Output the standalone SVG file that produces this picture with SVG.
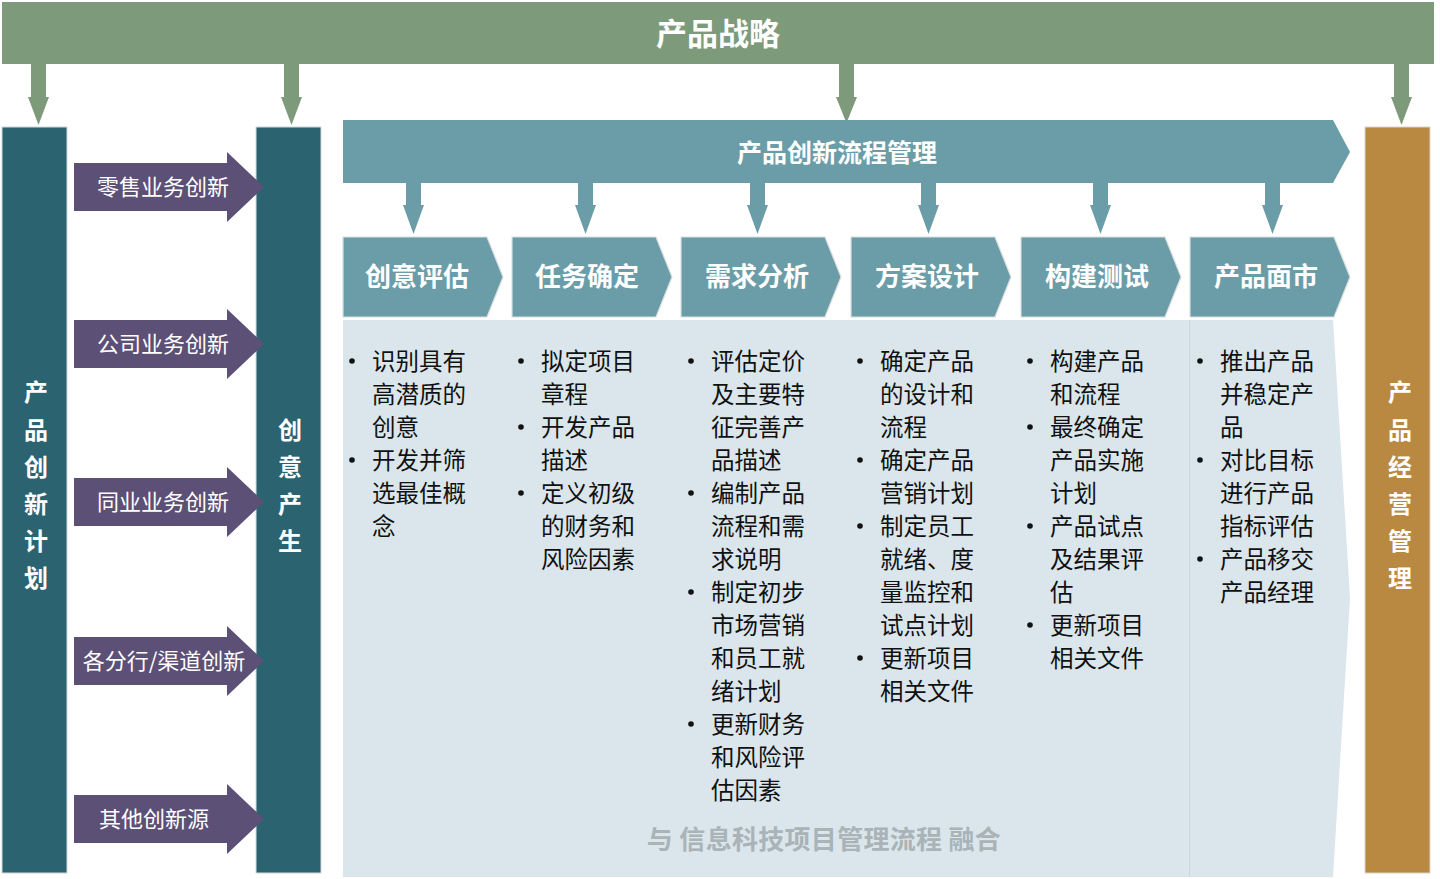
<svg xmlns="http://www.w3.org/2000/svg" width="1440" height="879" viewBox="0 0 1440 879">
<style>
.cjk{font-family:"Noto Sans CJK SC","Noto Sans",sans-serif}
.wb{fill:#fff;font-weight:bold}
.ttl{font-size:31px}
.hdr{font-size:26px}
.proc{font-size:25px}
.arr{font-size:22px;fill:#fff}
.vert{font-size:24px}
.body{font-size:23.5px;fill:#111}
.bul{fill:#111}
.green{fill:#7D9A7B}
.dteal{fill:#2B6470;stroke:#d4d9da;stroke-width:1}
.lteal{fill:#6A9DA8}
.chev{fill:#6A9DA8;stroke:#d9dfe1;stroke-width:1.2}
.purp{fill:#5C5076}
.gold{fill:#B98941;stroke:#d9d4cc;stroke-width:1}
.bg{fill:#DAE6EB}
.foot{font-size:26px;font-weight:bold;fill:#A9B3B8;letter-spacing:0.3px}
</style>
<rect width="1440" height="879" fill="#fff"/>

<g id="connectors">
  <polygon class="green" points="31,62 46,62 46,97 49,97 38.5,125 28,97 31,97"/>
  <polygon class="green" points="284,62 299,62 299,97 302,97 291.5,125 281,97 284,97"/>
  <polygon class="green" points="839,62 854,62 854,97 857,97 846.5,123 836,97 839,97"/>
  <polygon class="green" points="1394,62 1409,62 1409,97 1412,97 1401.5,125 1391,97 1394,97"/>
  <polygon class="lteal" points="406,181 421,181 421,205 424,205 413.5,234 403,205 406,205"/>
  <polygon class="lteal" points="578,181 593,181 593,205 596,205 585.5,234 575,205 578,205"/>
  <polygon class="lteal" points="750,181 765,181 765,205 768,205 757.5,234 747,205 750,205"/>
  <polygon class="lteal" points="921,181 936,181 936,205 939,205 928.5,234 918,205 921,205"/>
  <polygon class="lteal" points="1093,181 1108,181 1108,205 1111,205 1100.5,234 1090,205 1093,205"/>
  <polygon class="lteal" points="1265,181 1280,181 1280,205 1283,205 1272.5,234 1262,205 1265,205"/>
</g>

<g id="strategy">
  <rect class="green" x="2" y="2" width="1432" height="62"/>
  <text class="cjk wb ttl" x="718" y="45" text-anchor="middle">产品战略</text>
</g>

<g id="plan">
  <rect class="dteal" x="2" y="127" width="65" height="746"/>
  <text class="cjk wb vert" text-anchor="middle"><tspan x="36" y="401">产</tspan><tspan x="36" y="439">品</tspan><tspan x="36" y="476">创</tspan><tspan x="36" y="513">新</tspan><tspan x="36" y="550">计</tspan><tspan x="36" y="587">划</tspan></text>
</g>

<g id="generate">
  <rect class="dteal" x="256" y="127" width="65" height="746"/>
  <text class="cjk wb vert" text-anchor="middle"><tspan x="290" y="439">创</tspan><tspan x="290" y="476">意</tspan><tspan x="290" y="513">产</tspan><tspan x="290" y="550">生</tspan></text>
</g>

<g id="sources">
  <g id="src-retail"><polygon class="purp" points="74,163 227,163 227,152 264,187 227,222 227,211 74,211"/><text class="cjk arr" x="163" y="195" text-anchor="middle">零售业务创新</text></g>
  <g id="src-corp"><polygon class="purp" points="74,320 227,320 227,309 264,344 227,379 227,368 74,368"/><text class="cjk arr" x="163" y="352" text-anchor="middle">公司业务创新</text></g>
  <g id="src-peer"><polygon class="purp" points="74,478 227,478 227,467 264,502 227,537 227,526 74,526"/><text class="cjk arr" x="163" y="510" text-anchor="middle">同业业务创新</text></g>
  <g id="src-branch"><polygon class="purp" points="74,637 227,637 227,626 264,661 227,696 227,685 74,685"/><text class="cjk arr" x="164" y="669" text-anchor="middle">各分行/渠道创新</text></g>
  <g id="src-other"><polygon class="purp" points="74,795 227,795 227,784 264,819 227,854 227,843 74,843"/><text class="cjk arr" x="154" y="827" text-anchor="middle">其他创新源</text></g>
</g>

<g id="process">
  <polygon class="lteal" points="343,120 1333,120 1350,152 1333,183 343,183"/>
  <text class="cjk wb proc" x="837" y="162" text-anchor="middle">产品创新流程管理</text>
</g>

<g id="content">
  <polygon class="bg" points="343,320 1333,320 1350,598 1333,877 343,877"/>
  <line x1="1189.5" y1="320" x2="1189.5" y2="877" stroke="#C5D6DC" stroke-width="1"/>
  <text class="cjk foot" x="824" y="849" text-anchor="middle">与 信息科技项目管理流程 融合</text>
</g>

<g id="stage1">
  <polygon class="chev" points="343,237 487,237 503,277 487,317 343,317"/>
  <text class="cjk wb hdr" x="417" y="286" text-anchor="middle">创意评估</text>
  <g class="cjk body">
    <text x="372" y="370">识别具有</text><text x="372" y="403">高潜质的</text><text x="372" y="436">创意</text>
    <text x="372" y="469">开发并筛</text><text x="372" y="502">选最佳概</text><text x="372" y="535">念</text>
  </g>
  <circle class="bul" cx="352" cy="361" r="2.8"/><circle class="bul" cx="352" cy="460" r="2.8"/>
</g>

<g id="stage2">
  <polygon class="chev" points="512,237 656,237 672,277 656,317 512,317"/>
  <text class="cjk wb hdr" x="587" y="286" text-anchor="middle">任务确定</text>
  <g class="cjk body">
    <text x="541" y="370">拟定项目</text><text x="541" y="403">章程</text>
    <text x="541" y="436">开发产品</text><text x="541" y="469">描述</text>
    <text x="541" y="502">定义初级</text><text x="541" y="535">的财务和</text><text x="541" y="568">风险因素</text>
  </g>
  <circle class="bul" cx="521" cy="361" r="2.8"/><circle class="bul" cx="521" cy="427" r="2.8"/><circle class="bul" cx="521" cy="493" r="2.8"/>
</g>

<g id="stage3">
  <polygon class="chev" points="681,237 825,237 841,277 825,317 681,317"/>
  <text class="cjk wb hdr" x="757" y="286" text-anchor="middle">需求分析</text>
  <g class="cjk body">
    <text x="711" y="370">评估定价</text><text x="711" y="403">及主要特</text><text x="711" y="436">征完善产</text><text x="711" y="469">品描述</text>
    <text x="711" y="502">编制产品</text><text x="711" y="535">流程和需</text><text x="711" y="568">求说明</text>
    <text x="711" y="601">制定初步</text><text x="711" y="634">市场营销</text><text x="711" y="667">和员工就</text><text x="711" y="700">绪计划</text>
    <text x="711" y="733">更新财务</text><text x="711" y="766">和风险评</text><text x="711" y="799">估因素</text>
  </g>
  <circle class="bul" cx="691" cy="361" r="2.8"/><circle class="bul" cx="691" cy="493" r="2.8"/><circle class="bul" cx="691" cy="592" r="2.8"/><circle class="bul" cx="691" cy="724" r="2.8"/>
</g>

<g id="stage4">
  <polygon class="chev" points="851,237 995,237 1011,277 995,317 851,317"/>
  <text class="cjk wb hdr" x="927" y="286" text-anchor="middle">方案设计</text>
  <g class="cjk body">
    <text x="880" y="370">确定产品</text><text x="880" y="403">的设计和</text><text x="880" y="436">流程</text>
    <text x="880" y="469">确定产品</text><text x="880" y="502">营销计划</text>
    <text x="880" y="535">制定员工</text><text x="880" y="568">就绪、度</text><text x="880" y="601">量监控和</text><text x="880" y="634">试点计划</text>
    <text x="880" y="667">更新项目</text><text x="880" y="700">相关文件</text>
  </g>
  <circle class="bul" cx="860" cy="361" r="2.8"/><circle class="bul" cx="860" cy="460" r="2.8"/><circle class="bul" cx="860" cy="526" r="2.8"/><circle class="bul" cx="860" cy="658" r="2.8"/>
</g>

<g id="stage5">
  <polygon class="chev" points="1021,237 1165,237 1181,277 1165,317 1021,317"/>
  <text class="cjk wb hdr" x="1097" y="286" text-anchor="middle">构建测试</text>
  <g class="cjk body">
    <text x="1050" y="370">构建产品</text><text x="1050" y="403">和流程</text>
    <text x="1050" y="436">最终确定</text><text x="1050" y="469">产品实施</text><text x="1050" y="502">计划</text>
    <text x="1050" y="535">产品试点</text><text x="1050" y="568">及结果评</text><text x="1050" y="601">估</text>
    <text x="1050" y="634">更新项目</text><text x="1050" y="667">相关文件</text>
  </g>
  <circle class="bul" cx="1030" cy="361" r="2.8"/><circle class="bul" cx="1030" cy="427" r="2.8"/><circle class="bul" cx="1030" cy="526" r="2.8"/><circle class="bul" cx="1030" cy="625" r="2.8"/>
</g>

<g id="stage6">
  <polygon class="chev" points="1190,237 1334,237 1350,277 1334,317 1190,317"/>
  <text class="cjk wb hdr" x="1266" y="286" text-anchor="middle">产品面市</text>
  <g class="cjk body">
    <text x="1220" y="370">推出产品</text><text x="1220" y="403">并稳定产</text><text x="1220" y="436">品</text>
    <text x="1220" y="469">对比目标</text><text x="1220" y="502">进行产品</text><text x="1220" y="535">指标评估</text>
    <text x="1220" y="568">产品移交</text><text x="1220" y="601">产品经理</text>
  </g>
  <circle class="bul" cx="1200" cy="361" r="2.8"/><circle class="bul" cx="1200" cy="460" r="2.8"/><circle class="bul" cx="1200" cy="559" r="2.8"/>
</g>

<g id="operate">
  <rect class="gold" x="1365" y="127" width="65" height="746"/>
  <text class="cjk wb vert" text-anchor="middle"><tspan x="1400" y="401">产</tspan><tspan x="1400" y="439">品</tspan><tspan x="1400" y="476">经</tspan><tspan x="1400" y="513">营</tspan><tspan x="1400" y="550">管</tspan><tspan x="1400" y="587">理</tspan></text>
</g>
</svg>
